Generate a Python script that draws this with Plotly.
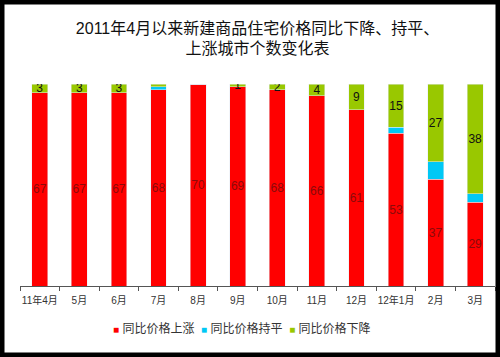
import plotly.graph_objects as go

months = ["11年4月", "5月", "6月", "7月", "8月", "9月", "10月", "11月", "12月", "12年1月", "2月", "3月"]
rise = [67, 67, 67, 68, 70, 69, 68, 66, 61, 53, 37, 29]
flat = [0, 0, 0, 1, 0, 0, 0, 0, 0, 2, 6, 3]
fall = [3, 3, 3, 1, 0, 1, 2, 4, 9, 15, 27, 38]
rise_labels = [str(v) for v in rise]
fall_labels = ["3", "3", "3", "", "", "1", "2", "4", "9", "15", "27", "38"]
series_names = ["同比价格上涨", "同比价格持平", "同比价格下降"]
colors = ["#FF0000", "#00C8F5", "#99C800"]

FONT = "Liberation Sans, Arial, Noto Sans CJK SC, sans-serif"

fig = go.Figure()
fig.add_bar(x=months, y=rise, name=series_names[0], marker_color=colors[0],
            text=rise_labels, textposition="inside", insidetextanchor="middle",
            textangle=0, textfont=dict(color="#8B0A0A", size=12, family=FONT))
fig.add_bar(x=months, y=flat, name=series_names[1], marker_color=colors[1],
            textposition="none")
fig.add_bar(x=months, y=fall, name=series_names[2], marker_color=colors[2],
            text=fall_labels, textposition="inside", insidetextanchor="middle",
            textangle=0, textfont=dict(color="#111111", size=12, family=FONT))

W, H = 500, 357
L, R, T, B = 20, 5, 84, 71
pw, ph = W - L - R, H - T - B

def px(x):
    return (x - L) / pw

def py(y):
    return (H - B - y) / ph

legend_text = "  ".join(
    f'<span style="color:{c};font-size:10px">■</span> {n}' for n, c in zip(series_names, colors)
)

fig.update_layout(
    width=W, height=H,
    margin=dict(l=L, r=R, t=T, b=B),
    barmode="stack", bargap=0.6,
    paper_bgcolor="white", plot_bgcolor="white",
    font=dict(family=FONT, color="#333333"),
    uniformtext=dict(minsize=12, mode="show"),
    title=dict(text="2011年4月以来新建商品住宅价格同比下降、持平、<br>上涨城市个数变化表",
               x=0.5, xref="paper", xanchor="center",
               y=1 - 33.5 / H, yref="container", yanchor="middle",
               font=dict(size=16, color="#111111", family=FONT)),
    xaxis=dict(showline=True, linecolor="#555555", linewidth=1,
               ticks="outside", tickson="boundaries", ticklen=4, tickcolor="#555555",
               tickangle=0, ticklabelstandoff=5,
               tickfont=dict(size=10, color="#333333"), showgrid=False),
    yaxis=dict(range=[0, 70], visible=False, showgrid=False),
    showlegend=False,
    annotations=[dict(text=legend_text, xref="paper", yref="paper",
                      x=px(242), y=py(328), xanchor="center", yanchor="middle",
                      showarrow=False, font=dict(size=12, color="#333333", family=FONT))],
    shapes=[dict(type="rect", xref="paper", yref="paper",
                 x0=px(0), x1=px(W), y0=py(H), y1=py(0),
                 line=dict(color="black", width=9), fillcolor="rgba(0,0,0,0)", layer="above")],
)

fig.write_html("out.html", config={"displayModeBar": False},
               post_script="document.body.style.margin='0';")
